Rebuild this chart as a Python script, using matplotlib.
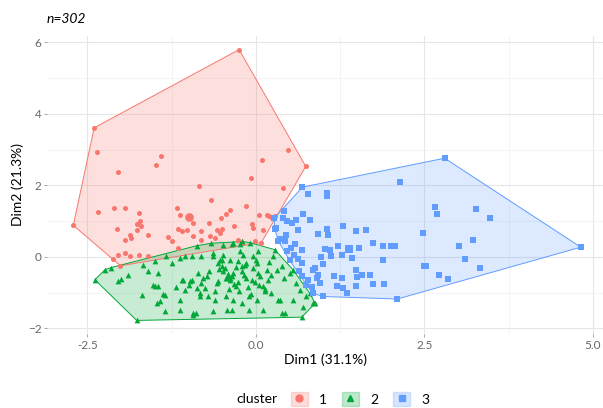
import numpy as np
import matplotlib
matplotlib.use("Agg")
import matplotlib.pyplot as plt
from matplotlib.patches import Polygon, Patch
from matplotlib.lines import Line2D

plt.rcParams['font.family'] = ['Lato', 'DejaVu Sans']

# cluster 1 (red circles)
x1 = [-0.25, -2.40, -2.36, -2.05, -1.48, -1.41, -0.84, -0.66, -0.15, -0.08, 0.09, 0.47,
      0.74, 0.40, -2.71, -2.35, -2.11, -1.95, -1.73, -1.17, -1.12, -0.93, -0.52, -0.45,
      -0.38, 0.04, 0.16, 0.22, 0.25, 0.10, -1.72, -1.76, -1.70, -2.06, -1.77, -1.60,
      -1.87, -1.86, -1.94, -1.15, -1.10, -1.03, -0.94, -0.81, -0.68, -0.58, -0.51, -0.54,
      -0.33, -0.06, -0.04, -1.24, -1.16, -0.81, -0.61, -0.26, -2.12, -2.04, -1.95, -1.87,
      -1.74, -1.60, -2.01, -0.20, -0.01, 0.08, 0.28, 0.19, -1.30, -0.70]
y1 = [5.80, 3.61, 2.92, 2.36, 2.58, 2.81, 1.99, 1.58, 1.41, 2.20, 2.71, 3.00,
      2.53, 1.94, 0.88, 1.25, 1.38, 1.38, 1.24, 1.36, 1.18, 0.94, 1.08, 1.20,
      1.30, 1.18, 1.18, 1.11, 1.08, 0.76, 0.99, 0.92, 0.85, 0.78, 0.76, 0.62,
      0.62, 0.52, 0.46, 0.78, 0.71, 0.74, 0.57, 0.71, 0.59, 0.76, 0.78, 0.66,
      0.85, 0.92, 0.80, 0.43, 0.24, 0.48, 0.52, 0.48, -0.06, 0.06, 0.10, 0.01,
      0.06, 0.03, -0.25, 0.38, 0.43, 0.40, 1.15, 1.13, 0.55, 0.95]

# cluster 2 (green triangles)
x2 = [-2.39, -2.24, -1.77, 0.68, 0.88, -2.00, -2.04, -1.69, -1.50, -1.46, -1.42, -1.38,
      -1.35, -1.19, -1.13, -1.10, -1.05, -0.95, -0.93, -0.89, -0.88, -0.83, -0.81, -0.76,
      -0.73, -0.63, -0.61, -0.56, -0.53, -0.49, -0.39, -0.36, -0.34, -0.21, -0.16, -0.11,
      0.11, 0.33, 0.43, 0.55, 0.65, 0.80, -1.50, -1.25, -1.05, -0.88, -0.63, -0.36,
      -0.24, -0.09, -0.24, 0.03, 0.28, -1.52, -1.35, -1.08, -0.98, -0.86, -0.78, -0.83,
      -0.71, -0.58, -0.56, -0.51, -0.46, -0.43, -0.43, -0.39, -0.34, -0.29, -0.25, -0.21,
      -0.19, -0.14, -0.06, -0.04, 0.01, 0.03, 0.01, 0.11, 0.13, 0.16, 0.18, 0.26,
      0.31, 0.36, 0.38, 0.38, 0.50, 0.55, 0.60, 0.75, 0.85, -0.93, -1.47, -1.13,
      -1.67, -0.66, -0.49, -0.34, -0.21, -1.33, -1.13, -0.95, -0.81, -0.63, -0.49, -1.45,
      -0.42, -0.30, -0.26, -0.18, -0.12, -0.05, 0.06, 0.20, -0.50, -0.40, -0.32, -0.15,
      -0.08, 0.05, 0.22, -0.70, -0.60, -0.45, -0.27, -0.02, 0.14, 0.42, -1.00, -0.20,
      -0.55, -0.35, 0.00, 0.23, -1.60, -1.90, -2.15, 0.70, -0.10]
y2 = [-0.64, -0.36, -1.78, -1.69, -1.30, -0.62, -0.69, -1.06, -0.81, -0.81, -1.25, -1.04,
      -1.53, -0.85, -1.20, -0.64, -0.92, -0.64, -1.58, -1.58, -0.88, -1.02, -0.72, -0.88,
      -0.55, -1.53, -1.20, -0.69, -0.08, -0.41, -0.64, -1.48, -1.20, -0.41, -0.22, -1.48,
      -1.48, -1.20, -1.58, -1.20, -0.92, -1.02, -0.13, -0.16, 0.03, 0.31, 0.10, 0.36,
      0.36, 0.40, 0.15, 0.15, 0.20, -0.78, -1.06, -0.64, -0.69, -0.44, -0.60, -1.11,
      -1.11, -0.74, -0.18, -0.08, -0.32, -0.60, -1.48, -0.08, -0.46, -0.83, -0.97, -0.27,
      0.06, -0.18, -0.64, 0.01, -0.18, -0.46, -1.20, -0.83, -0.97, -0.36, -0.64, 0.01,
      -0.36, -1.20, -0.27, -1.58, -0.46, -0.36, -0.74, -1.11, -1.30, -1.62, -1.30, -1.48,
      -0.22, 0.38, 0.34, 0.38, 0.43, 0.03, -0.04, 0.03, 0.01, 0.01, 0.06, -0.45,
      -0.52, -0.28, -0.70, -0.50, -0.85, -0.30, -0.55, -0.15, -0.25, -0.90, -0.75, -0.60,
      -1.05, -0.80, -0.50, -0.40, -0.95, -1.10, -0.12, -0.70, -0.90, -0.60, -0.80, -1.30,
      -0.35, -0.55, -0.10, -1.00, -0.40, -0.50, -0.30, -1.40, -1.10]

# cluster 3 (blue squares)
x3 = [2.80, 0.69, 2.14, 0.78, 1.06, 1.06, 0.41, 0.70, 0.80, 0.46, 0.54, 0.60,
      0.28, 0.45, 0.63, 0.43, 0.58, 0.46, 0.50, 0.69, 0.68, 0.57, 0.68, 0.78,
      0.83, 0.85, 0.99, 0.85, 0.88, 0.92, 0.95, 0.97, 1.02, 1.10, 1.05, 1.07,
      0.92, 1.12, 1.16, 1.20, 1.22, 1.29, 1.27, 1.27, 1.29, 1.35, 1.42, 1.48,
      1.49, 1.50, 1.48, 1.53, 1.57, 1.63, 1.69, 1.74, 1.74, 1.88, 1.88, 1.90,
      2.01, 2.06, 2.10, 2.48, 2.49, 2.52, 2.66, 2.68, 2.72, 2.85, 3.02, 3.10,
      3.22, 3.26, 3.33, 3.47, 4.82, 0.27, 0.30, 0.64, 0.75, 0.90, 0.36, 0.52,
      1.00, 0.62, 0.40, 0.33]
y3 = [2.76, 1.95, 2.08, 1.76, 1.78, 1.71, 1.27, 1.20, 1.04, 0.99, 0.96, 1.02,
      0.78, 0.62, 0.74, 0.43, 0.36, 0.15, -0.10, 0.18, -0.18, 0.05, -0.53, -0.66,
      -0.85, -1.02, -1.11, -0.36, -0.32, -0.50, -0.72, -0.01, 0.22, 0.20, 0.78, 0.60,
      0.64, 0.01, -0.55, -0.81, 0.31, 0.87, 0.06, -0.60, -0.88, -1.02, -0.04, -0.38,
      0.71, -0.57, -0.81, 0.24, -0.52, 0.76, -0.52, 0.38, -0.76, -0.08, 0.29, -0.76,
      0.31, 0.31, -1.18, 0.68, -0.27, -0.27, 1.39, 1.20, -0.50, -0.62, 0.31, -0.06,
      0.46, 1.34, -0.30, 1.10, 0.27, 1.08, 0.80, -0.41, -0.78, -0.60, 0.50, 0.25,
      -0.20, -0.05, 1.10, 0.45]

# cluster centres
cx = [-1.00, -0.42, 1.38]
cy = [1.11, -0.55, 0.22]

colors = ['#F8766D', '#00A838', '#619CFF']
markers = ['o', '^', 's']
sizes = [13, 17, 13]


def hull(px, py):
    pts = sorted(set(zip(px, py)))
    def cross(o, a, b):
        return (a[0] - o[0]) * (b[1] - o[1]) - (a[1] - o[1]) * (b[0] - o[0])
    lower, upper = [], []
    for p in pts:
        while len(lower) >= 2 and cross(lower[-2], lower[-1], p) <= 0:
            lower.pop()
        lower.append(p)
    for p in reversed(pts):
        while len(upper) >= 2 and cross(upper[-2], upper[-1], p) <= 0:
            upper.pop()
        upper.append(p)
    return lower[:-1] + upper[:-1]


fig = plt.figure(figsize=(6.03, 4.08), dpi=100)
ax = fig.add_axes([47 / 603, 74 / 408, 556 / 603, 298 / 408])

for spine in ax.spines.values():
    spine.set_visible(False)
ax.set_xlim(-3.10, 5.15)
ax.set_ylim(-2.16, 6.18)
ax.set_xticks([-2.5, 0, 2.5, 5.0])
ax.set_xticklabels(['-2.5', '0.0', '2.5', '5.0'])
ax.set_xticks([-1.25, 1.25, 3.75], minor=True)
ax.set_yticks([-2, 0, 2, 4, 6])
ax.set_yticks([-1, 1, 3, 5], minor=True)
ax.grid(True, which='major', color='#E6E6E6', linewidth=0.8)
ax.grid(True, which='minor', color='#F0F0F0', linewidth=0.5)
ax.set_axisbelow(True)
ax.tick_params(which='major', length=2, width=0.6, color='#999999',
               labelcolor='#666666', labelsize=8.5, pad=2)
ax.tick_params(which='minor', length=0)

data = [(x1, y1), (x2, y2), (x3, y3)]
for i, (xs, ys) in enumerate(data):
    h = hull(xs, ys)
    ax.add_patch(Polygon(h, closed=True, facecolor=colors[i], alpha=0.22,
                         edgecolor='none', zorder=1))
    ax.add_patch(Polygon(h, closed=True, facecolor='none', edgecolor=colors[i],
                         linewidth=0.7, zorder=1.5))
for i, (xs, ys) in enumerate(data):
    ax.scatter(xs, ys, s=sizes[i], marker=markers[i], color=colors[i],
               linewidths=0, zorder=3)
    ax.scatter([cx[i]], [cy[i]], s=sizes[i] * 3, marker=markers[i],
               color=colors[i], linewidths=0, zorder=3)

ax.set_xlabel('Dim1 (31.1%)', fontsize=10, labelpad=2)
ax.set_ylabel('Dim2 (21.3%)', fontsize=10, labelpad=3)
fig.text(47 / 603, 1 - 19 / 408, 'n=302', fontsize=10, style='italic',
         va='center', ha='left')

handles = []
for i in range(3):
    handles.append((Patch(facecolor=colors[i], alpha=0.25, edgecolor=colors[i]),
                    Line2D([], [], linestyle='none', marker=markers[i],
                           color=colors[i], markersize=5)))
leg = fig.legend(handles, ['1', '2', '3'], ncol=3, loc='center',
                 bbox_to_anchor=(360 / 603, 1 - 399 / 408), frameon=False,
                 fontsize=10, handlelength=1.2, handleheight=1.2,
                 columnspacing=1.1, handletextpad=0.8)
fig.text(257 / 603, 1 - 399 / 408, 'cluster', fontsize=10, va='center',
         ha='center')

fig.savefig('out.png', dpi=100)
